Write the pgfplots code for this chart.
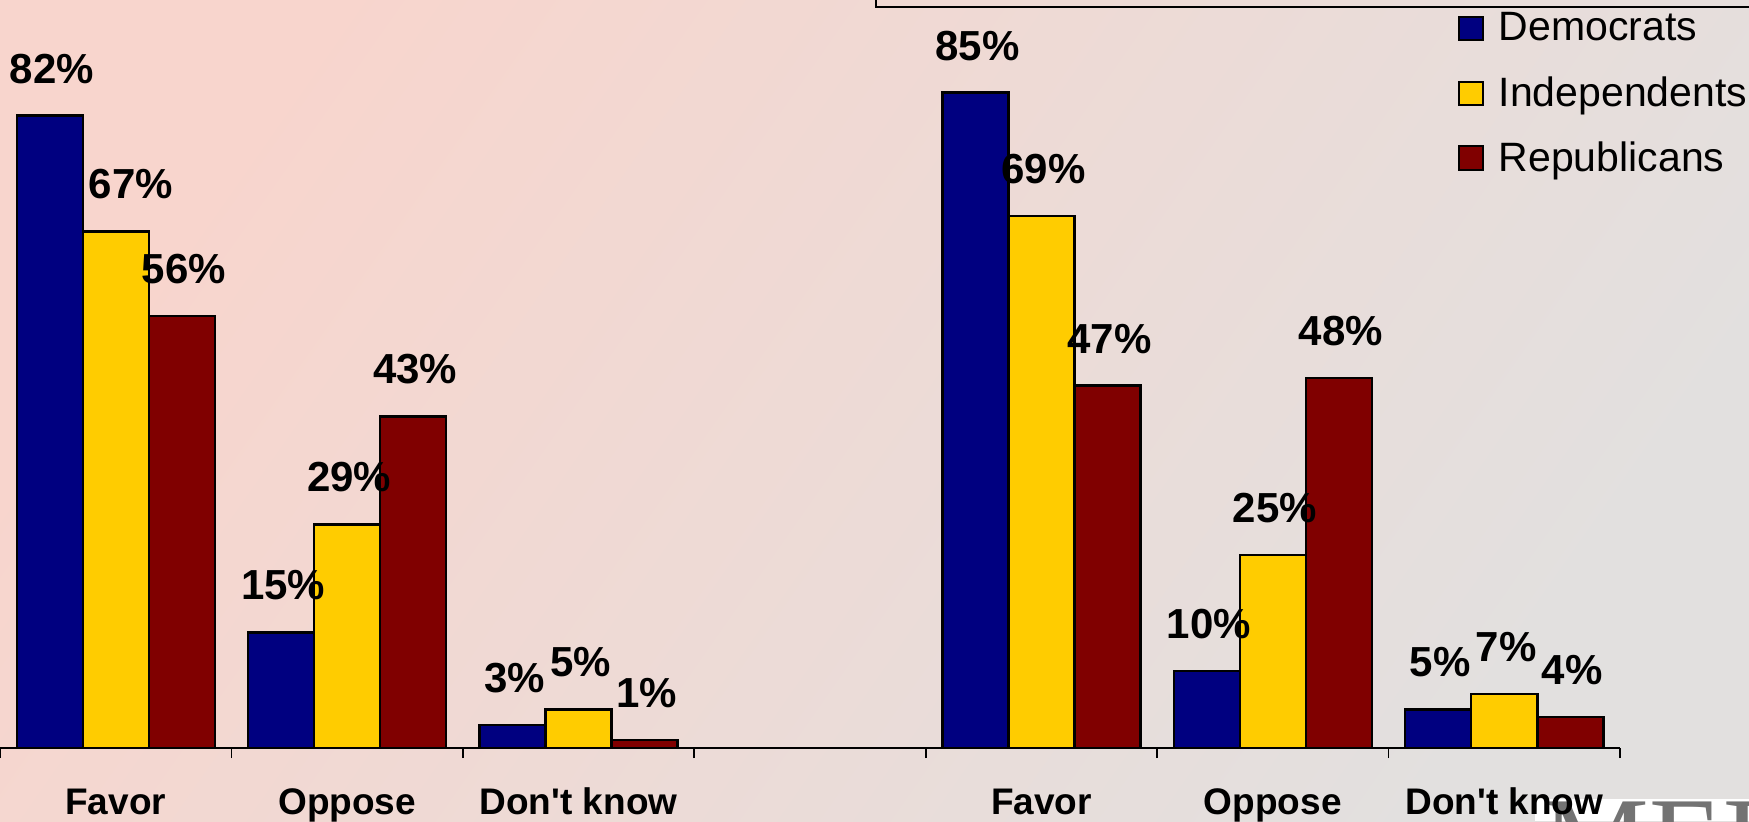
\documentclass[border=0pt]{standalone}
\usepackage{fontspec}
\setmainfont{Liberation Sans}
\newfontfamily\logofont{Liberation Serif}
\usepackage{pgfplots}
\pgfplotsset{compat=1.18}
\usepackage{pgfplotstable}
\definecolor{dem}{HTML}{000080}
\definecolor{ind}{HTML}{FFCC00}
\definecolor{rep}{HTML}{800000}
\definecolor{bgUL}{HTML}{F8D5CD}
\definecolor{bgLR}{HTML}{E2E0DF}

\pgfplotstableread{
x y
0 82
1 15
2 3
4 85
5 10
6 5
}\demtab
\pgfplotstableread{
x y dx
0 67 6.5
1 29 0
2 5 0
4 69 0
5 25 0
6 7 0
}\indtab
\pgfplotstableread{
x y
0 56
1 43
2 1
4 47
5 48
6 4
}\reptab

\begin{document}
\begin{tikzpicture}
\useasboundingbox (0,-36.5pt) rectangle (874.5pt,374pt);
\shade[top color=bgUL, bottom color=bgLR, middle color=bgUL!50!bgLR, shading angle=55] (0,-36.5pt) rectangle (874.5pt,374pt);
\draw[line width=1pt] (438pt,380pt) -- (438pt,370.5pt) -- (880pt,370.5pt);
\begin{scope}
\clip (767.5pt,-36.5pt) rectangle (874.5pt,-25.5pt);
\fill[white] (767.5pt,-36.5pt) rectangle (874.5pt,-25.5pt);
\node[anchor=north west, inner sep=0pt, text=black!55, font=\logofont\fontsize{60}{60}\selectfont] at (771pt,-27pt) {MEI};
\end{scope}
\begin{axis}[
  at={(0,0)}, anchor=south west,
  scale only axis, width=810pt, height=374pt,
  ybar,
  xmin=-0.5, xmax=6.5, ymin=0, ymax=97,
  clip=false,
  axis x line*=bottom, axis y line=none,
  x axis line style={-, line width=1pt, black},
  ytick=\empty,
  xtick={0,1,2,3,4,5,6},
  xticklabels={Favor,Oppose,Don\textquotesingle t know,,Favor,Oppose,Don\textquotesingle t know},
  major x tick style={draw=none},
  minor xtick={-0.5,0.5,1.5,2.5,3.5,4.5,5.5,6.5},
  minor x tick style={black, line width=0.8pt},
  minor tick length=5pt,
  tick align=outside,
  xticklabel style={font=\bfseries\fontsize{18.5}{20}\selectfont, anchor=base, yshift=-29pt},
  bar width=33pt,
  nodes near coords={\pgfmathprintnumber[assume math mode=true]{\pgfplotspointmeta}\%},
  every node near coord/.append style={font=\bfseries\fontsize{21}{24}\selectfont, anchor=center, yshift=23.5pt, xshift=1pt, text=black},
  legend style={at={(rel axis cs:0.9,1.006)}, anchor=north west, draw=none, fill=none,
    font=\fontsize{20.5}{24}\selectfont, row sep=0pt, inner sep=0pt,
    nodes={inner sep=0pt},
    /tikz/every odd column/.append style={column sep=7.5pt}},
  legend cell align=left,
  legend image code/.code={\path[draw=none, fill=none] (0pt,-16.2pt) rectangle (0.1pt,16.2pt);
    \draw[#1, draw=black, line width=1pt] (0pt,-5.9pt) rectangle (11.7pt,5.8pt);},
]
\addplot[fill=dem, draw=black, line width=1.2pt, bar shift=-33pt] table {\demtab};
\addplot[fill=ind, draw=black, line width=1.2pt, bar shift=0pt,
  visualization depends on={\thisrow{dx} \as \dx},
  every node near coord/.append style={xshift=\dx pt}] table {\indtab};
\addplot[fill=rep, draw=black, line width=1.2pt, bar shift=33pt] table {\reptab};
\legend{Democrats,Independents,Republicans}
\end{axis}
\end{tikzpicture}
\end{document}
